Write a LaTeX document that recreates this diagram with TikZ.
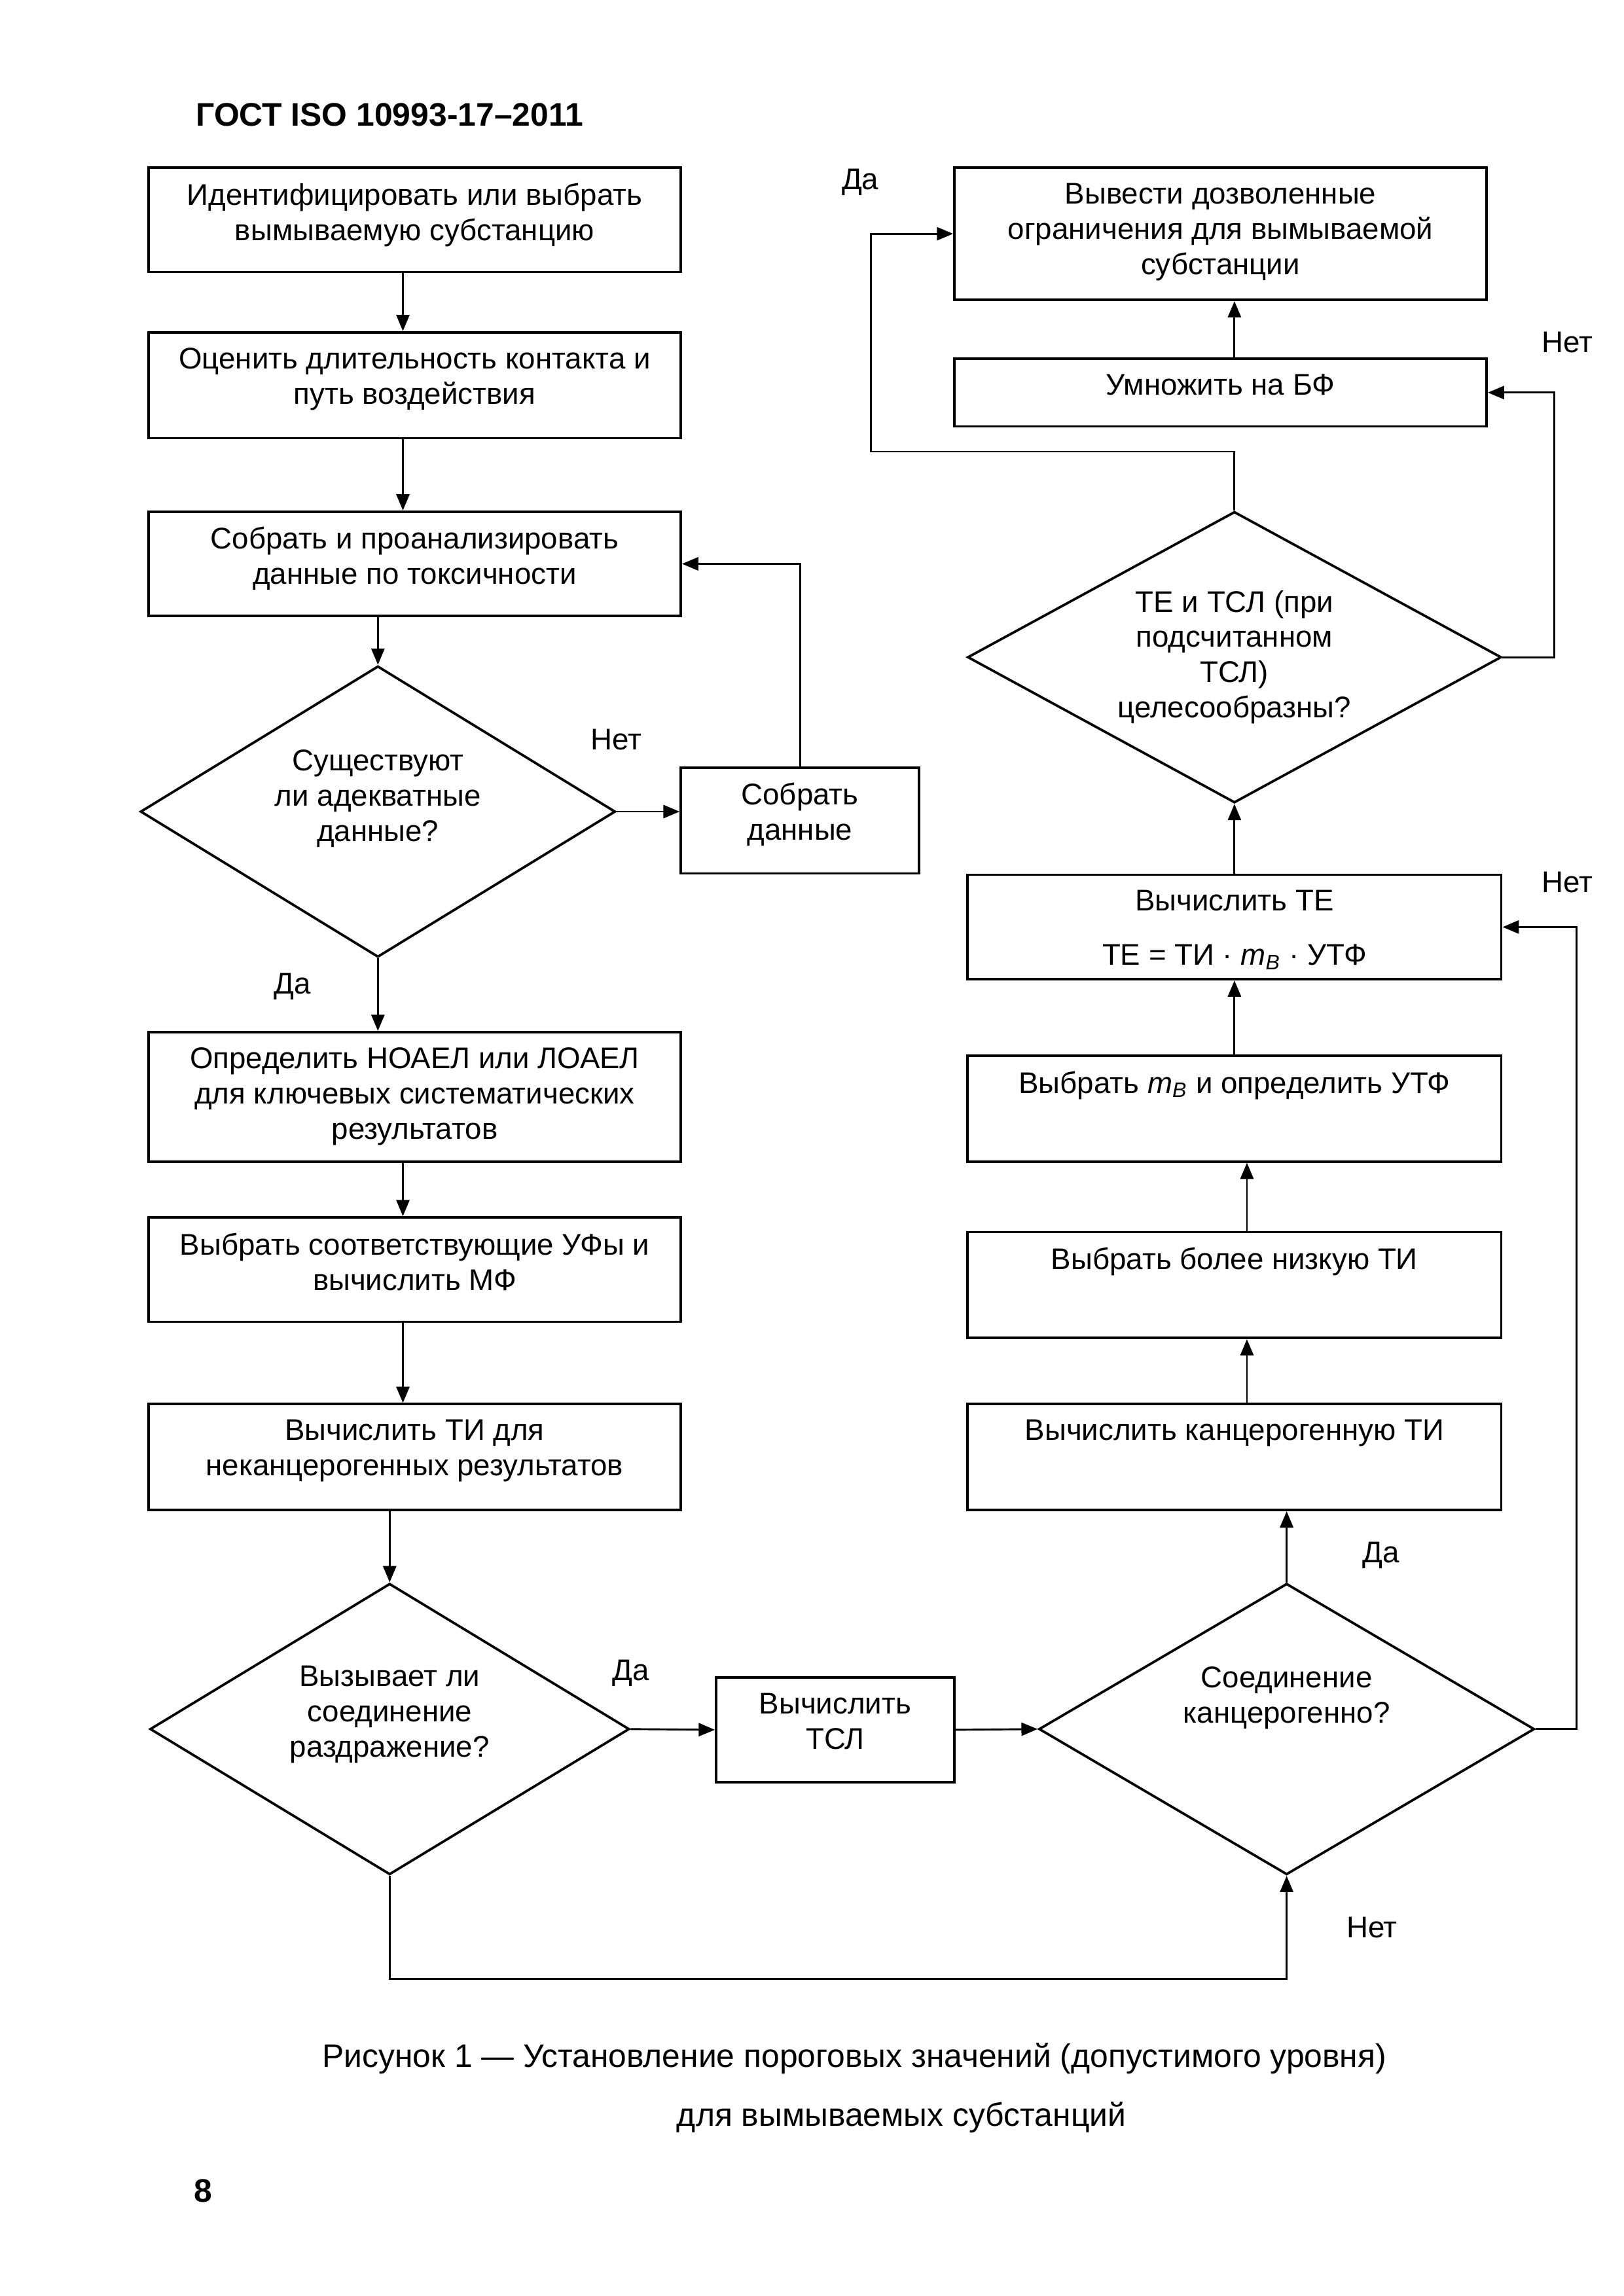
\documentclass[tikz,border=0pt]{standalone}
\usepackage{fontspec}
\setmainfont{Liberation Sans}
\usetikzlibrary{arrows.meta,shapes.geometric}
\def\u{0.19022mm}
\newcommand{\boxfont}{\fontsize{11}{13}\selectfont}
\tikzset{
  box/.style={draw, line width=0.9pt, minimum width=362*\u, inner sep=0pt},
  btext/.style={label={[font=\boxfont, align=center, inner sep=0pt, anchor=north, yshift=-11*\u]north:#1}},
  diam/.style={draw, diamond, line width=0.9pt, inner sep=0pt},
  dtext/.style 2 args={label={[font=\boxfont, align=center, inner sep=0pt, anchor=center, yshift=#1*\u]center:#2}},
  arr/.style={-{Triangle[length=2.1mm,width=1.7mm]}, line width=0.7pt},
  lbl/.style={font=\boxfont, inner sep=0pt}
}
\begin{document}
\begin{tikzpicture}[x=\u, y=-\u]
\useasboundingbox (0,0) rectangle (1104,1561.6);
% header
\node[anchor=west, inner sep=0pt, font=\fontsize{12}{14}\selectfont\bfseries] (hdr) at (133,78) {ГОСТ ISO 10993-17–2011};

% left column
\node[box, minimum height=71*\u, btext={Идентифицировать или выбрать\\вымываемую субстанцию}] (b1) at (282,149.5) {};
\node[box, minimum height=72*\u, btext={Оценить длительность контакта и\\путь воздействия}] (b2) at (282,262) {};
\node[box, minimum height=71*\u, btext={Собрать и проанализировать\\данные по токсичности}] (b3) at (282,383.5) {};
\node[diam, minimum width=323*\u, minimum height=198*\u, dtext={9}{Существуют\\ли адекватные\\данные?}] (d1) at (257,552) {};
\node[box, minimum width=162*\u, minimum height=72*\u, btext={Собрать\\данные}] (sd) at (544,558) {};
\node[box, minimum height=88*\u, btext={Определить НОАЕЛ или ЛОАЕЛ\\для ключевых систематических\\результатов}] (b4) at (282,746) {};
\node[box, minimum height=71*\u, btext={Выбрать соответствующие УФы и\\вычислить МФ}] (b5) at (282,863.5) {};
\node[box, minimum height=72*\u, btext={Вычислить ТИ для\\неканцерогенных результатов}] (b6) at (282,991) {};
\node[diam, minimum width=326*\u, minimum height=198*\u, dtext={10}{Вызывает ли\\соединение\\раздражение?}] (d2) at (265,1176) {};
\node[box, minimum width=162*\u, minimum height=71*\u, btext={Вычислить\\ТСЛ}] (tsl) at (568,1176.5) {};
\node[diam, minimum width=337*\u, minimum height=198*\u, dtext={21}{Соединение\\канцерогенно?}] (d3) at (875,1176) {};

% right column
\node[box, minimum width=363*\u, minimum height=72*\u, btext={Вычислить канцерогенную ТИ}] (r1) at (839.5,991) {};
\node[box, minimum width=363*\u, minimum height=72*\u, btext={Выбрать более низкую ТИ}] (r2) at (839.5,874) {};
\node[box, minimum width=363*\u, minimum height=72*\u, btext={Выбрать \textit{m}\textsubscript{\textit{В}} и определить УТФ}] (r3) at (839.5,754) {};
\node[box, minimum width=363*\u, minimum height=71*\u, btext={Вычислить ТЕ\\[7pt]ТЕ = ТИ · \textit{m}\textsubscript{\textit{В}} · УТФ}] (r4) at (839.5,630.5) {};
\node[diam, minimum width=363*\u, minimum height=198*\u, dtext={0}{ТЕ и ТСЛ (при\\подсчитанном\\ТСЛ)\\целесообразны?}] (d4) at (839.5,447) {};
\node[box, minimum height=46*\u, btext={Умножить на БФ}] (r5) at (830,267) {};
\node[box, minimum height=90*\u, btext={Вывести дозволенные\\ограничения для вымываемой\\субстанции}] (r6) at (830,159) {};

% connectors left
\draw[arr] ([xshift=-8*\u]b1.south) -- ([xshift=-8*\u]b2.north);
\draw[arr] ([xshift=-8*\u]b2.south) -- ([xshift=-8*\u]b3.north);
\draw[arr] (b3.south -| d1.north) -- (d1.north);
\draw[arr] (d1.east) -- (d1.east -| sd.west);
\draw[arr] (sd.north) |- (b3.east);
\draw[arr] (d1.south) -- (d1.south |- b4.north);
\draw[arr] ([xshift=-8*\u]b4.south) -- ([xshift=-8*\u]b5.north);
\draw[arr] ([xshift=-8*\u]b5.south) -- ([xshift=-8*\u]b6.north);
\draw[arr] (d2.north |- b6.south) -- (d2.north);
\draw[arr] (d2.east) -- (tsl.west);
\draw[arr] (tsl.east) -- (d3.west);
\draw[arr] (d2.south) -- ++(0,70) -| (d3.south);
\draw[arr] (d3.north) -- (d3.north |- r1.south);
\draw[arr] (d3.east) -- ++(28,0) |- (r4.east);

% connectors right
\draw[arr] ([xshift=8.5*\u]r1.north) -- ([xshift=8.5*\u]r2.south);
\draw[arr] ([xshift=8.5*\u]r2.north) -- ([xshift=8.5*\u]r3.south);
\draw[arr] (r3.north) -- (r4.south);
\draw[arr] (r4.north) -- (d4.south);
\draw[arr] (d4.east) -- ++(35,0) |- (r5.east);
\draw[arr] (r5.north -| d4.north) -- (r6.south -| d4.north);
\draw[arr] (d4.north) -- ++(0,-40) -| ([xshift=-56*\u]r6.west) -- (r6.west);

% labels
\node[lbl] (l1) at (419,503) {Нет};
\node[lbl] (l2) at (199,671) {Да};
\node[lbl] (l3) at (429,1138) {Да};
\node[lbl] (l4) at (933,1311) {Нет};
\node[lbl] (l5) at (939,1058) {Да};
\node[lbl] (l6) at (1066,600) {Нет};
\node[lbl] (l7) at (1066,233) {Нет};
\node[lbl] (l8) at (585,124) {Да};

% caption
\node[inner sep=0pt, font=\fontsize{12}{14}\selectfont] (cap1) at (581,1400) {Рисунок 1 — Установление пороговых значений (допустимого уровня)};
\node[inner sep=0pt, font=\fontsize{12}{14}\selectfont] (cap2) at (613,1440) {для вымываемых субстанций};
\node[inner sep=0pt, font=\fontsize{12}{14}\selectfont\bfseries] (pg) at (138,1490) {8};
\end{tikzpicture}
\end{document}
